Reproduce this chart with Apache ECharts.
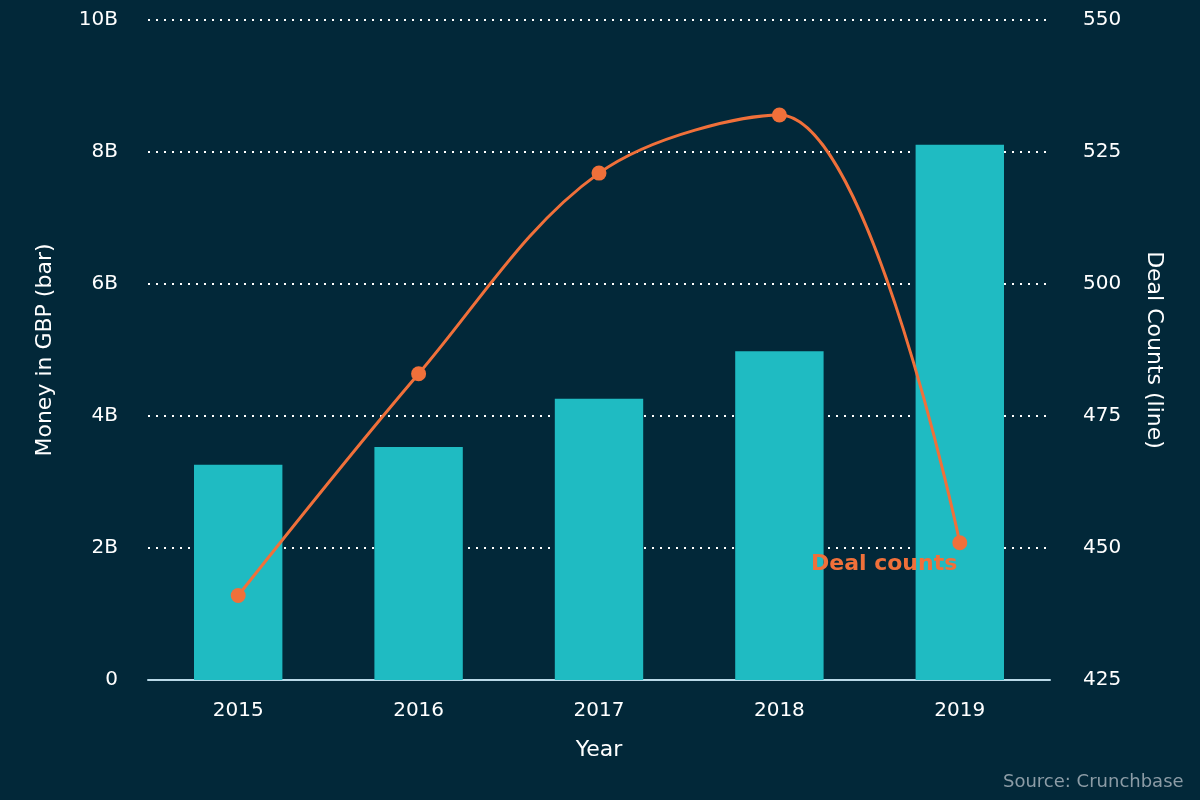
<!DOCTYPE html>
<html><head><meta charset="utf-8">
<script src="https://cdn.jsdelivr.net/npm/echarts@6/dist/echarts.min.js"></script>
<style>html,body{margin:0;padding:0;background:#022839;}#c{width:1200px;height:800px;}</style>
</head><body><div id="c"></div>
<script>
const years = ['2015','2016','2017','2018','2019'];
const moneyBillions = [3.26, 3.53, 4.26, 4.98, 8.11];
const dealCounts = [441, 483, 521, 532, 451];
const leftTicks = [0, 2, 4, 6, 8, 10];
const rightTicks = [425, 450, 475, 500, 525, 550];
const font = 'DejaVu Sans';
const chart = echarts.init(document.getElementById('c'));
chart.setOption({
  backgroundColor: '#022839',
  animation: false,
  grid: {left: 148, right: 150, top: 20, bottom: 120},
  xAxis: {
    type: 'category', data: years,
    name: 'Year', nameLocation: 'middle', nameGap: 59,
    nameTextStyle: {color: '#ffffff', fontSize: 22, fontFamily: font},
    axisLine: {lineStyle: {color: '#b9d9e8', width: 2}},
    axisTick: {show: false},
    axisLabel: {color: '#ffffff', fontSize: 20, fontFamily: font, margin: 21}
  },
  yAxis: [{
    type: 'value', min: leftTicks[0], max: leftTicks[leftTicks.length-1], interval: 2,
    name: 'Money in GBP (bar)', nameLocation: 'middle', nameGap: 92,
    nameTextStyle: {color: '#ffffff', fontSize: 22, fontFamily: font},
    axisLine: {show: false}, axisTick: {show: false},
    axisLabel: {color: '#ffffff', fontSize: 20, fontFamily: font, margin: 30,
      formatter: v => v === 0 ? '0' : v + 'B'},
    splitLine: {lineStyle: {color: '#ffffff', type: [2, 6], width: 2}}
  }, {
    type: 'value', min: rightTicks[0], max: rightTicks[rightTicks.length-1], interval: 25,
    name: 'Deal Counts (line)', nameLocation: 'middle', nameGap: 93, nameRotate: -90,
    nameTextStyle: {color: '#ffffff', fontSize: 22, fontFamily: font},
    axisLine: {show: false}, axisTick: {show: false},
    axisLabel: {color: '#ffffff', fontSize: 20, fontFamily: font, margin: 33},
    splitLine: {show: false}
  }],
  series: [{
    type: 'bar', data: moneyBillions, yAxisIndex: 0, barWidth: '49%',
    itemStyle: {color: '#1fbbc2'}
  }, {
    type: 'line', data: dealCounts.map((v, i) => i === dealCounts.length - 1 ? {
      value: v,
      label: {show: true, formatter: 'Deal counts', position: 'left', distance: 0, offset: [5, 22],
        color: '#f0703a', fontSize: 22, fontWeight: 'bold', fontFamily: font}
    } : v),
    yAxisIndex: 1, smooth: 0.35,
    symbol: 'circle', symbolSize: 15,
    lineStyle: {color: '#f0703a', width: 3},
    itemStyle: {color: '#f0703a'}
  }],
  graphic: [{
    type: 'text', left: 1003, top: 773,
    style: {text: 'Source: Crunchbase', fill: '#8c9ca6', fontSize: 18, fontFamily: font}
  }]
});
</script></body></html>
